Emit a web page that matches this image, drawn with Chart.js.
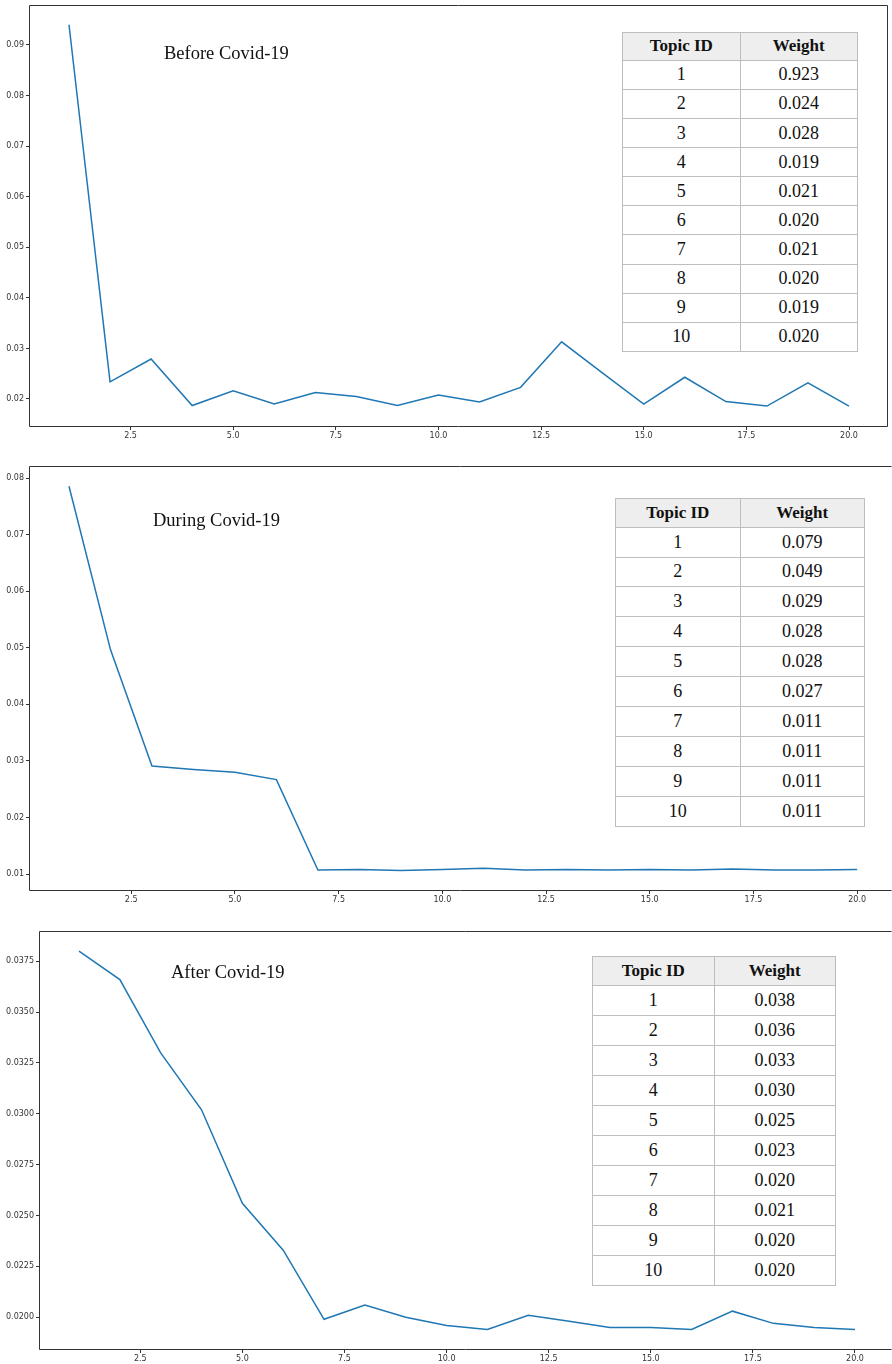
<!DOCTYPE html>
<html>
<head>
<meta charset="utf-8">
<script src="https://cdn.jsdelivr.net/npm/chart.js@4.4.0/dist/chart.umd.min.js"></script>
<style>
body { margin: 0; background: #fff; width: 892px; height: 1364px; position: relative; overflow: hidden; }
canvas { position: absolute; left: 0; }
.title { position: absolute; font-family: "Liberation Serif", "DejaVu Serif", serif; font-size: 18.5px; line-height: 1; color: #111; white-space: nowrap; }
table { position: absolute; border-collapse: collapse; table-layout: fixed; font-family: "Liberation Serif", serif; color: #111; background: #fff; }
td, th { border: 1px solid #bdbdbd; text-align: center; padding: 0; font-size: 18px; font-weight: normal; }
th { background: #eeeeee; font-weight: bold; font-size: 17px; }
</style>
</head>
<body>
<script>
// x values (topic number) shared by the three plots
const topicIds = [1, 2, 3, 4, 5, 6, 7, 8, 9, 10, 11, 12, 13, 14, 15, 16, 17, 18, 19, 20];

const beforeWeights = [0.0940, 0.0234, 0.0279, 0.0187, 0.0216, 0.0190, 0.0213, 0.0205, 0.0187, 0.0208,
                       0.0194, 0.0223, 0.0313, 0.0251, 0.0190, 0.0243, 0.0195, 0.0186, 0.0232, 0.0186];
const duringWeights = [0.0786, 0.0497, 0.0291, 0.0285, 0.0280, 0.0267, 0.0107, 0.0108, 0.0106, 0.0108,
                       0.0110, 0.0107, 0.0108, 0.0107, 0.0108, 0.0107, 0.0109, 0.0107, 0.0107, 0.0108];
const afterWeights  = [0.0380, 0.0366, 0.0330, 0.0302, 0.0256, 0.0233, 0.0199, 0.0206, 0.0200, 0.0196,
                       0.0194, 0.0201, 0.0198, 0.0195, 0.0195, 0.0194, 0.0203, 0.0197, 0.0195, 0.0194];

// tick labels
const xTicks = [2.5, 5, 7.5, 10, 12.5, 15, 17.5, 20];
const yTicksBefore = [0.02, 0.03, 0.04, 0.05, 0.06, 0.07, 0.08, 0.09];
const yTicksDuring = [0.01, 0.02, 0.03, 0.04, 0.05, 0.06, 0.07, 0.08];
const yTicksAfter = [0.02, 0.0225, 0.025, 0.0275, 0.03, 0.0325, 0.035, 0.0375];

// inset tables
const tableIds = [1, 2, 3, 4, 5, 6, 7, 8, 9, 10];
const beforeTable = ['0.923', '0.024', '0.028', '0.019', '0.021', '0.020', '0.021', '0.020', '0.019', '0.020'];
const duringTable = ['0.079', '0.049', '0.029', '0.028', '0.028', '0.027', '0.011', '0.011', '0.011', '0.011'];
const afterTable  = ['0.038', '0.036', '0.033', '0.030', '0.025', '0.023', '0.020', '0.021', '0.020', '0.020'];

const titles = ['Before Covid-19', 'During Covid-19', 'After Covid-19'];

// draws the axes box round the plot area
const framePlugin = {
  id: 'frame',
  afterDraw(chart, args, opts) {
    const a = chart.chartArea;
    const l = Math.round(a.left) - 0.5, t = Math.round(a.top) - 0.5;
    const r = Math.round(a.right) - 0.5, b = Math.round(a.bottom) + 0.5;
    const ctx = chart.ctx;
    ctx.save();
    ctx.strokeStyle = '#333';
    ctx.lineWidth = 1;
    ctx.beginPath();
    ctx.moveTo(r, t);
    ctx.lineTo(l, t);
    ctx.lineTo(l, b);
    ctx.lineTo(r, b);
    if (opts.right) ctx.closePath();
    ctx.stroke();
    ctx.restore();
  }
};

const panels = [
  { top: 0, h: 445, left: 30, areaTop: 6, right: 888, bottom: 426, xMin: 0.05, xMax: 20.95,
    yMin: 0.01466, yMax: 0.09771, values: beforeWeights, yTicks: yTicksBefore, dec: 2, frameRight: true,
    title: titles[0], titleX: 164, titleY: 43.5, table: beforeTable, tab: { x: 622, y: 32, w: 236, h: 320 } },
  { top: 445, h: 460, left: 30, areaTop: 467, right: 892, bottom: 890, xMin: 0.06, xMax: 20.84,
    yMin: 0.00717, yMax: 0.0820, values: duringWeights, yTicks: yTicksDuring, dec: 2, frameRight: false,
    title: titles[1], titleX: 153, titleY: 510.5, table: duringTable, tab: { x: 615, y: 498, w: 250, h: 329 } },
  { top: 905, h: 459, left: 40, areaTop: 932, right: 892, bottom: 1349, xMin: 0.045, xMax: 20.906,
    yMin: 0.01844, yMax: 0.03894, values: afterWeights, yTicks: yTicksAfter, dec: 4, frameRight: false,
    title: titles[2], titleX: 171, titleY: 962.5, table: afterTable, tab: { x: 592, y: 956, w: 244, h: 330 } }
];

const tickFont = { family: 'DejaVu Sans', size: 8 };

panels.forEach(p => {
  const canvas = document.createElement('canvas');
  canvas.width = 892;
  canvas.height = p.h;
  canvas.style.top = p.top + 'px';
  canvas.style.width = '892px';
  canvas.style.height = p.h + 'px';
  document.body.appendChild(canvas);

  new Chart(canvas, {
    type: 'line',
    data: {
      datasets: [{
        data: topicIds.map((t, i) => ({ x: t, y: p.values[i] })),
        borderColor: '#1f77b4',
        borderWidth: 1.5,
        pointRadius: 0,
        tension: 0,
        fill: false
      }]
    },
    options: {
      responsive: false,
      animation: false,
      devicePixelRatio: 1,
      layout: { padding: { top: p.areaTop - p.top, right: 892 - p.right, left: 0, bottom: 0 } },
      plugins: { legend: { display: false }, tooltip: { enabled: false }, frame: { right: p.frameRight } },
      scales: {
        x: {
          type: 'linear', min: p.xMin, max: p.xMax,
          afterBuildTicks: s => { s.ticks = xTicks.map(v => ({ value: v })); },
          afterFit: s => { s.height = p.top + p.h - p.bottom; s.paddingLeft = 0; s.paddingRight = 0; },
          ticks: { callback: v => Number(v).toFixed(1), font: tickFont, color: '#333', padding: 1, maxRotation: 0, autoSkip: false },
          grid: { drawOnChartArea: false, tickLength: 4, color: '#333' },
          border: { display: false }
        },
        y: {
          type: 'linear', min: p.yMin, max: p.yMax,
          afterBuildTicks: s => { s.ticks = p.yTicks.map(v => ({ value: v })); },
          afterFit: s => { s.width = p.left; s.paddingTop = 0; s.paddingBottom = 0; },
          ticks: { callback: v => Number(v).toFixed(p.dec), font: tickFont, color: '#333', padding: 2, autoSkip: false },
          grid: { drawOnChartArea: false, tickLength: 4, color: '#333' },
          border: { display: false }
        }
      }
    },
    plugins: [framePlugin]
  });

  const title = document.createElement('div');
  title.className = 'title';
  title.textContent = p.title;
  title.style.left = p.titleX + 'px';
  title.style.top = p.titleY + 'px';
  document.body.appendChild(title);

  const table = document.createElement('table');
  table.style.left = p.tab.x + 'px';
  table.style.top = p.tab.y + 'px';
  table.style.width = p.tab.w + 'px';
  table.style.height = p.tab.h + 'px';
  let html = '<tr><th>Topic ID</th><th>Weight</th></tr>';
  tableIds.forEach((id, i) => { html += '<tr><td>' + id + '</td><td>' + p.table[i] + '</td></tr>'; });
  table.innerHTML = html;
  document.body.appendChild(table);
});
</script>
</body>
</html>
